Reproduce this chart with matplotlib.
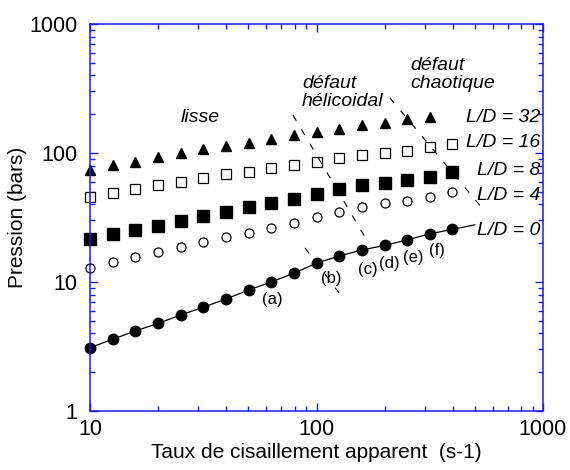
import numpy as np
import matplotlib
matplotlib.use("Agg")
import matplotlib.pyplot as plt
from matplotlib.ticker import FixedLocator, NullFormatter, FixedFormatter

plt.rcParams['font.family'] = ['Liberation Sans', 'DejaVu Sans']

# shear rate (s-1)
shear = [10, 12.6, 15.8, 20, 25.1, 31.6, 39.8, 50.1, 63.1, 79.4,
         100, 126, 158, 200, 251, 316, 398]

# pressure (bars) for each L/D
p_ld0 = [3.1, 3.6, 4.17, 4.78, 5.55, 6.37, 7.38, 8.67, 10.0, 11.7,
         14.0, 15.9, 17.7, 19.2, 21.2, 23.6, 25.6]
p_ld4 = [12.9, 14.3, 15.7, 17.2, 18.8, 20.5, 22.2, 24.1, 26.2, 28.8,
         31.7, 34.7, 38.0, 41.2, 42.4, 45.4, 50.0]
p_ld8 = [21.4, 23.6, 25.3, 27.3, 29.7, 32.5, 34.7, 37.9, 40.7, 44.0,
         48.4, 52.3, 56.5, 58.9, 61.8, 65.5, 71.6]
p_ld16 = [45.4, 49.2, 52.3, 56.5, 59.9, 63.6, 68.7, 71.6, 76.0, 80.7,
          85.7, 91.0, 96.0, 100.5, 104, 112, 117.5]
p_ld32 = [73.8, 80.8, 85.7, 93.0, 100.7, 107, 113, 120, 127.7, 138,
          146, 154, 165, 171.6, 182, 191]

# regime boundaries (x0, x1), (y0, y1)
helical_x, helical_y = [78.7, 168.7], [197, 20.4]
b_mark_x, b_mark_y = [88.9, 131], [18.4, 7.5]
chaotic_x, chaotic_y = [211, 538], [267, 37.5]

blue = '#1a1aff'

fig = plt.figure(figsize=(5.7, 4.7), dpi=100)
ax = fig.add_axes([0.158, 0.1255, 0.7946, 0.8234])
ax.set_xscale('log')
ax.set_yscale('log')
ax.set_xlim(10, 1000)
ax.set_ylim(1, 1000)

# L/D = 0 line through the points, extended toward its label
lx, ly = np.log10(shear[-2:]), np.log10(p_ld0[-2:])
slope = (ly[1] - ly[0]) / (lx[1] - lx[0])
x_end = 500
y_end = 10 ** (ly[1] + slope * (np.log10(x_end) - lx[1]))
ax.plot(shear + [x_end], p_ld0 + [y_end], color='black', lw=0.9, clip_on=False)

ax.plot(shear, p_ld0, 'o', ms=7.5, mfc='black', mec='black', clip_on=False)
ax.plot(shear, p_ld4, 'o', ms=6.5, mfc='white', mec='black', mew=0.9, clip_on=False)
ax.plot(shear, p_ld8, 's', ms=8, mfc='black', mec='black', clip_on=False)
ax.plot(shear, p_ld16, 's', ms=7, mfc='white', mec='black', mew=0.9, clip_on=False)
ax.plot(shear[:len(p_ld32)], p_ld32, '^', ms=7.5, mfc='black', mec='black', clip_on=False)

dash = dict(color='black', lw=0.8, dashes=(6, 9))
ax.plot(helical_x, helical_y, **dash)
ax.plot(b_mark_x, b_mark_y, **dash)
ax.plot(chaotic_x, chaotic_y, **dash)

# annotations
it = dict(fontsize=14, style='italic')
ax.text(30.6, 187, 'lisse', ha='center', va='center', **it)
ax.text(86.3, 402, 'défaut\nhélicoidal', ha='left', va='top', linespacing=1.05, **it)
ax.text(259, 555, 'défaut\nchaotique', ha='left', va='top', linespacing=1.05, **it)
ld_labels = ['L/D = 32', 'L/D = 16', 'L/D = 8', 'L/D = 4', 'L/D = 0']
ld_y = [174, 111, 67.5, 43.2, 23.2]
for lab, yy in zip(ld_labels, ld_y):
    ax.text(970, yy, lab, ha='right', va='baseline', **it)

pt_labels = ['(a)', '(b)', '(c)', '(d)', '(e)', '(f)']
pt_x = [63.7, 116, 169, 209, 267, 340]
pt_y = [7.38, 10.7, 12.6, 13.8, 15.4, 17.7]
for lab, xx, yy in zip(pt_labels, pt_x, pt_y):
    ax.text(xx, yy, lab, ha='center', va='center', fontsize=12)

# axes styling
for s in ax.spines.values():
    s.set_color(blue)
    s.set_linewidth(1.1)

dec = [1, 10, 100, 1000]
ax.xaxis.set_major_locator(FixedLocator([10, 100, 1000]))
ax.xaxis.set_major_formatter(FixedFormatter(['10', '100', '1000']))
ax.yaxis.set_major_locator(FixedLocator(dec))
ax.yaxis.set_major_formatter(FixedFormatter(['1', '10', '100', '1000']))
minors = [m * d for d in dec for m in range(2, 10)]
ax.xaxis.set_minor_locator(FixedLocator(minors))
ax.yaxis.set_minor_locator(FixedLocator(minors))
ax.xaxis.set_minor_formatter(NullFormatter())
ax.yaxis.set_minor_formatter(NullFormatter())

ax.tick_params(which='both', direction='in', top=True, right=True, color=blue,
               width=1.0, labelsize=15.5)
ax.tick_params(which='major', length=6)
ax.tick_params(which='minor', length=3.5)
ax.tick_params(axis='x', pad=6)
ax.tick_params(axis='y', pad=9)

ax.set_xlabel('Taux de cisaillement apparent  (s-1)', fontsize=15, labelpad=2)
ax.set_ylabel('Pression (bars)', fontsize=15, labelpad=2)

plt.savefig('out.png', dpi=100)
